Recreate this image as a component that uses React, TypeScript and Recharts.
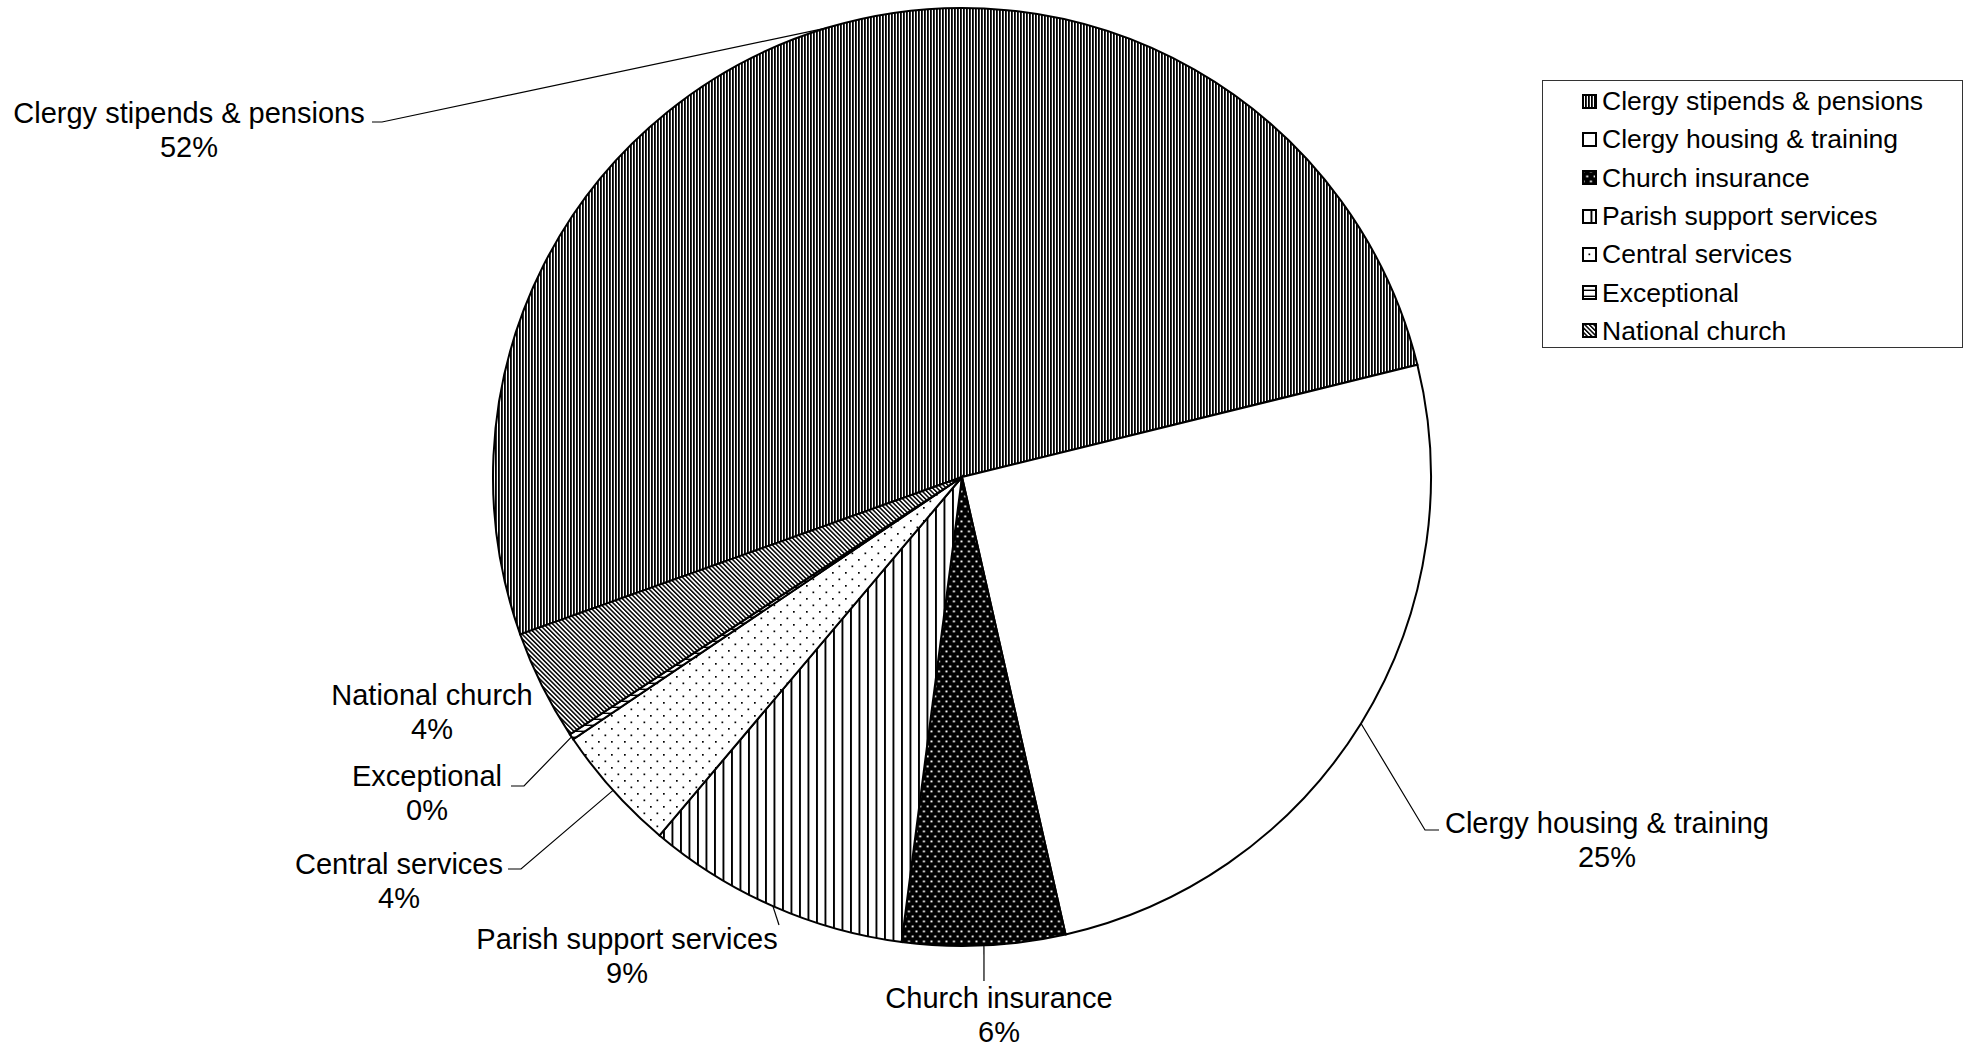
import React from 'react';
import { PieChart, Pie, Cell, Legend } from 'recharts';

// Diocesan expenditure split
const categories = [
  'Clergy stipends & pensions',
  'Clergy housing & training',
  'Church insurance',
  'Parish support services',
  'Central services',
  'Exceptional',
  'National church',
];
const shares = [51.6, 25.3, 5.6, 9.1, 4.4, 0.2, 3.8];
const fills = [
  'url(#pStipends)',
  '#ffffff',
  'url(#pInsurance)',
  'url(#pParish)',
  'url(#pCentral)',
  'url(#pExceptional)',
  'url(#pNational)',
];

const pieData = categories.map((name, i) => ({ name, value: shares[i] }));

// where each outside label sits, plus the leader elbow points
const labelSpots: Record<string, { x: number; y: number; lead: number[][] }> = {
  'Clergy stipends & pensions': { x: 189, y: 113, lead: [[372, 122], [382, 122]] },
  'Clergy housing & training': { x: 1607, y: 823, lead: [[1439, 830], [1425, 830]] },
  'Church insurance': { x: 999, y: 998, lead: [[984, 981]] },
  'Parish support services': { x: 627, y: 939, lead: [[779, 925]] },
  'Central services': { x: 399, y: 864, lead: [[508, 869], [521, 869]] },
  'Exceptional': { x: 427, y: 776, lead: [[511, 786], [524, 786]] },
  'National church': { x: 432, y: 695, lead: [] },
};

const FONT = '"Liberation Sans", Arial, sans-serif';
const RAD = Math.PI / 180;

const Patterns = () => (
  <defs>
    <pattern id="pStipends" patternUnits="userSpaceOnUse" width="3" height="10">
      <rect width="3" height="10" fill="#fff" />
      <rect x="0" width="1.8" height="10" fill="#000" />
    </pattern>
    <pattern id="pInsurance" patternUnits="userSpaceOnUse" width="7.5" height="10">
      <rect width="7.5" height="10" fill="#000" />
      <rect x="0.5" y="0.5" width="1.9" height="1.9" fill="#fff" />
      <rect x="4.25" y="5.5" width="1.9" height="1.9" fill="#fff" />
    </pattern>
    <pattern id="pParish" patternUnits="userSpaceOnUse" width="8.5" height="10">
      <rect width="8.5" height="10" fill="#fff" />
      <rect x="0" width="1.9" height="10" fill="#000" />
    </pattern>
    <pattern id="pCentral" patternUnits="userSpaceOnUse" width="13" height="13">
      <rect width="13" height="13" fill="#fff" />
      <rect x="0" y="0" width="1.7" height="1.7" fill="#000" />
      <rect x="6.5" y="6.5" width="1.7" height="1.7" fill="#000" />
    </pattern>
    <pattern id="pExceptional" patternUnits="userSpaceOnUse" width="6" height="6">
      <rect width="6" height="6" fill="#fff" />
      <rect x="0" y="4.6" width="6" height="1.4" fill="#000" />
    </pattern>
    <pattern id="pNational" patternUnits="userSpaceOnUse" width="3.2" height="10" patternTransform="rotate(-45)">
      <rect width="3.2" height="10" fill="#fff" />
      <rect x="0" width="1.5" height="10" fill="#000" />
    </pattern>
  </defs>
);

const renderLabel = (props: any) => {
  const { cx, cy, midAngle, outerRadius, percent, index } = props;
  const name = categories[index];
  const spot = labelSpots[name];
  if (!spot) return null;
  const ex = cx + outerRadius * Math.cos(-midAngle * RAD);
  const ey = cy + outerRadius * Math.sin(-midAngle * RAD);
  const pts = [...spot.lead, [ex, ey]];
  const d = spot.lead.length ? 'M' + pts.map((p) => `${p[0]},${p[1]}`).join(' L') : '';
  return (
    <g>
      {d && <path d={d} stroke="#000" strokeWidth={1.2} fill="none" />}
      <text x={spot.x} y={spot.y} textAnchor="middle" dominantBaseline="central" fontFamily={FONT} fontSize={29} fill="#000">
        {name}
      </text>
      <text x={spot.x} y={spot.y + 34} textAnchor="middle" dominantBaseline="central" fontFamily={FONT} fontSize={29} fill="#000">
        {`${Math.round(percent * 100)}%`}
      </text>
    </g>
  );
};

const LegendBox = () => (
  <div
    style={{
      border: '1px solid #333',
      background: '#fff',
      boxSizing: 'border-box',
      width: 421,
      height: 268,
      paddingTop: 1,
      fontFamily: FONT,
      fontSize: 26.5,
      color: '#000',
    }}
  >
    {categories.map((name, i) => (
      <div key={name} style={{ height: 38.3, display: 'flex', alignItems: 'center', paddingLeft: 39 }}>
        <svg width={15} height={15} style={{ marginRight: 5, flex: 'none' }}>
          <rect x={1} y={1} width={13} height={13} fill={fills[i]} stroke="#000" strokeWidth={2} />
        </svg>
        <span style={{ whiteSpace: 'nowrap', lineHeight: '38px' }}>{name}</span>
      </div>
    ))}
  </div>
);

export default function App() {
  return (
    <div style={{ position: 'absolute', left: 0, top: 0, width: 1966, height: 1048, background: '#fff' }}>
      <PieChart width={1966} height={1048} margin={{ top: 0, right: 0, bottom: 0, left: 0 }}>
        <Patterns />
        <Pie
          data={pieData}
          dataKey="value"
          nameKey="name"
          cx={962}
          cy={477}
          outerRadius={469}
          startAngle={199.6}
          endAngle={-160.4}
          stroke="#000"
          strokeWidth={2}
          label={renderLabel}
          labelLine={false}
          isAnimationActive={false}
        >
          {pieData.map((entry, i) => (
            <Cell key={entry.name} fill={fills[i]} />
          ))}
        </Pie>
        <Legend
          content={() => <LegendBox />}
          wrapperStyle={{ position: 'absolute', left: 1542, top: 80, width: 421, height: 268 }}
        />
      </PieChart>
    </div>
  );
}
